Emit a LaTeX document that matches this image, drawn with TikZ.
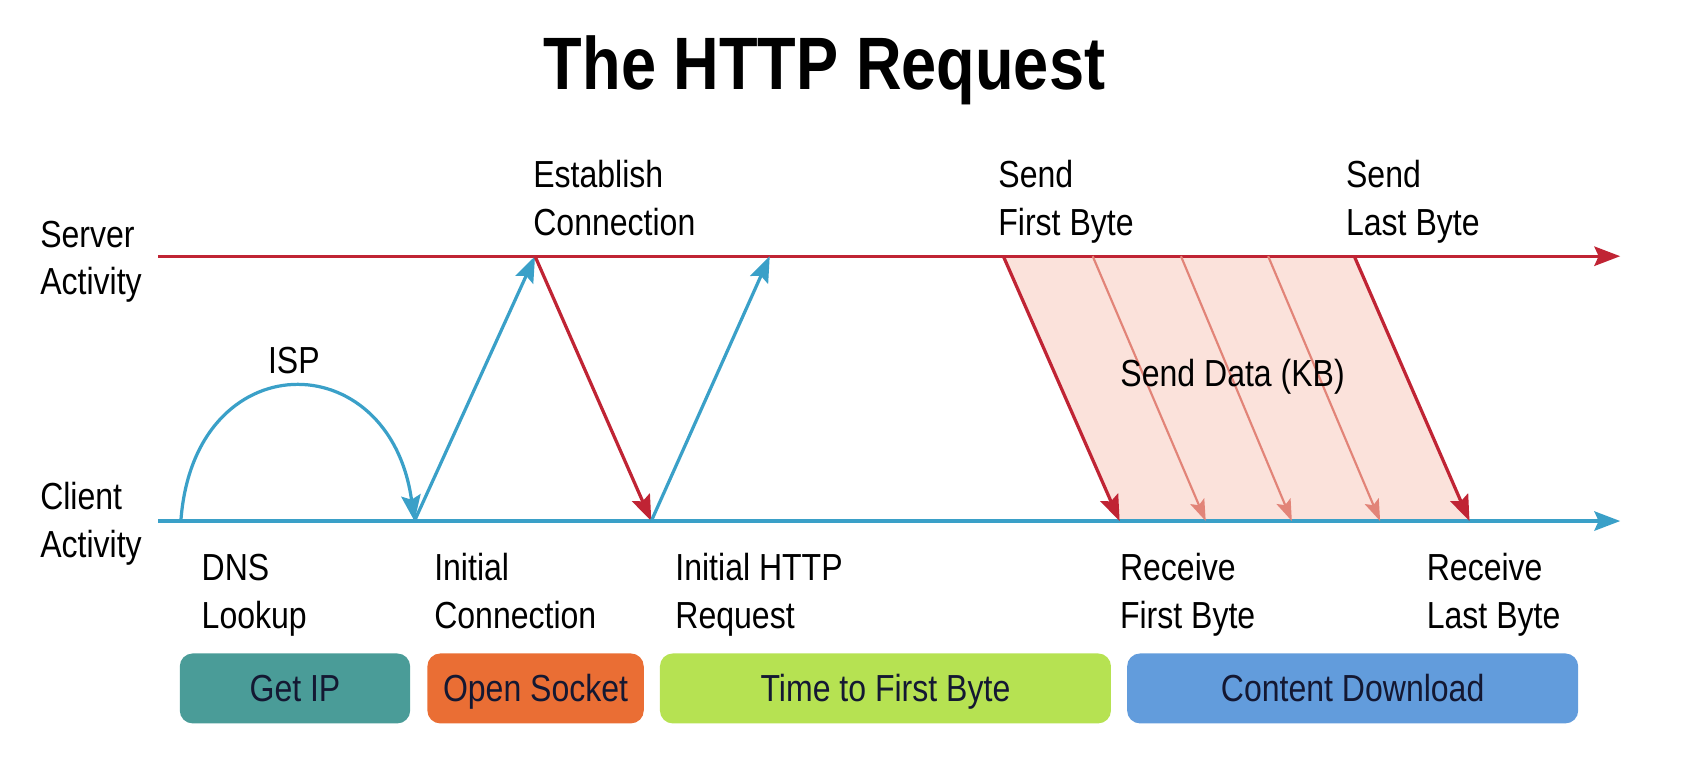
\documentclass[tikz,border=0pt]{standalone}
\usepackage{fontspec}
\setmainfont{Liberation Sans}[FakeStretch=0.85]
\usetikzlibrary{positioning,arrows.meta}

\definecolor{srvred}{RGB}{192,36,52}
\definecolor{cliblue}{RGB}{58,160,200}
\definecolor{datared}{RGB}{226,132,120}
\definecolor{datafill}{RGB}{251,226,219}
\definecolor{ipteal}{RGB}{74,156,152}
\definecolor{sockorange}{RGB}{234,110,52}
\definecolor{ttfblime}{RGB}{182,226,82}
\definecolor{dlblue}{RGB}{98,156,220}
\definecolor{boxtext}{RGB}{20,24,50}

\begin{document}
\begin{tikzpicture}[x=0.5pt,y=-0.5pt]
	\tikzstyle{lbl} = [anchor=west, align=left, inner sep=0pt, font=\fontsize{17.5}{22}\selectfont]
	\tikzstyle{phase} = [rounded corners=6pt, minimum height=32.5pt, inner sep=0pt, text height=16pt, text depth=3.5pt, text=boxtext, font=\fontsize{17.5}{22}\selectfont]
	\tikzstyle{srv} = [srvred, line width=1.5pt, -{Stealth[length=12pt,width=9pt,inset=2pt]}]
	\tikzstyle{cli} = [cliblue, line width=1.5pt, -{Stealth[length=12pt,width=9pt,inset=2pt]}]
	\tikzstyle{data} = [datared, line width=1pt, -{Stealth[length=10pt,width=7pt,inset=2pt]}]
	\useasboundingbox (0,0) rectangle (1568,715.3);

	% title
	\node[anchor=base, font=\fontsize{34.5}{40}\selectfont\bfseries](title) at (766,83){The HTTP Request};

	% time lines
	\coordinate (s0) at (147,238);
	\coordinate (s9) at (1505,238);
	\coordinate (c0) at (147,484);
	\coordinate (c9) at (1505,484);
	\node[lbl](srvlbl) at (37,242.7){Server\strut\\Activity\strut};
	\node[lbl](clilbl) at (37,486.7){Client\strut\\Activity\strut};

	% send data band
	\coordinate (sf) at (932,238);
	\coordinate (sl) at (1258,238);
	\coordinate (rf) at (1040,484);
	\coordinate (rl) at (1365,484);
	\fill[datafill] (sf) -- (sl) -- (rl) -- (rf) -- cycle;

	\draw[srv] (s0) -- (s9);
	\draw[cli] (c0) -- (c9);

	% handshake
	\coordinate (dns) at (168,484);
	\coordinate (ic) at (385,484);
	\coordinate (ec) at (497,238);
	\coordinate (ih) at (605,484);
	\coordinate (rq) at (715,238);
	\draw[cli] (dns) .. controls (180,318) and (362,318) .. (ic);
	\node(isp) at (273,335){\fontsize{17.5}{22}\selectfont ISP};
	\draw[cli] (ic) -- (ec);
	\draw[srv] (ec) -- (ih);
	\draw[cli] (ih) -- (rq);

	% data packets
	\foreach \i/\a/\b in {1/1015/1120, 2/1097/1200, 3/1178/1282}{
		\coordinate (t\i) at (\a,238);
		\coordinate (b\i) at (\b,484);
		\draw[data] (t\i) -- (b\i);
	}
	\draw[srv] (sf) -- (rf);
	\draw[srv] (sl) -- (rl);
	\node[font=\fontsize{17.5}{22}\selectfont](kb) at (1145,350){Send Data (KB)};

	% upper labels
	\node[lbl](estab) at (495,187.7){Establish\strut\\Connection\strut};
	\node[lbl](sfb) at (927,187.7){Send\strut\\First Byte\strut};
	\node[lbl](slb) at (1250,187.7){Send\strut\\Last Byte\strut};

	% lower labels
	\node[lbl](dnsl) at (187,552.7){DNS\strut\\Lookup\strut};
	\node[lbl](icl) at (403,552.7){Initial\strut\\Connection\strut};
	\node[lbl](ihl) at (627,552.7){Initial HTTP\strut\\Request\strut};
	\node[lbl](rfb) at (1040,552.7){Receive\strut\\First Byte\strut};
	\node[lbl](rlb) at (1325,552.7){Receive\strut\\Last Byte\strut};

	% phases
	\node[phase, fill=ipteal, minimum width=107pt](getip) at (274,639.5){Get IP};
	\node[phase, fill=sockorange, minimum width=100.5pt](sock) at (497.5,639.5){Open Socket};
	\node[phase, fill=ttfblime, minimum width=209.5pt](ttfb) at (822.5,639.5){Time to First Byte};
	\node[phase, fill=dlblue, minimum width=209.5pt](dl) at (1256.5,639.5){Content Download};
\end{tikzpicture}
\end{document}
